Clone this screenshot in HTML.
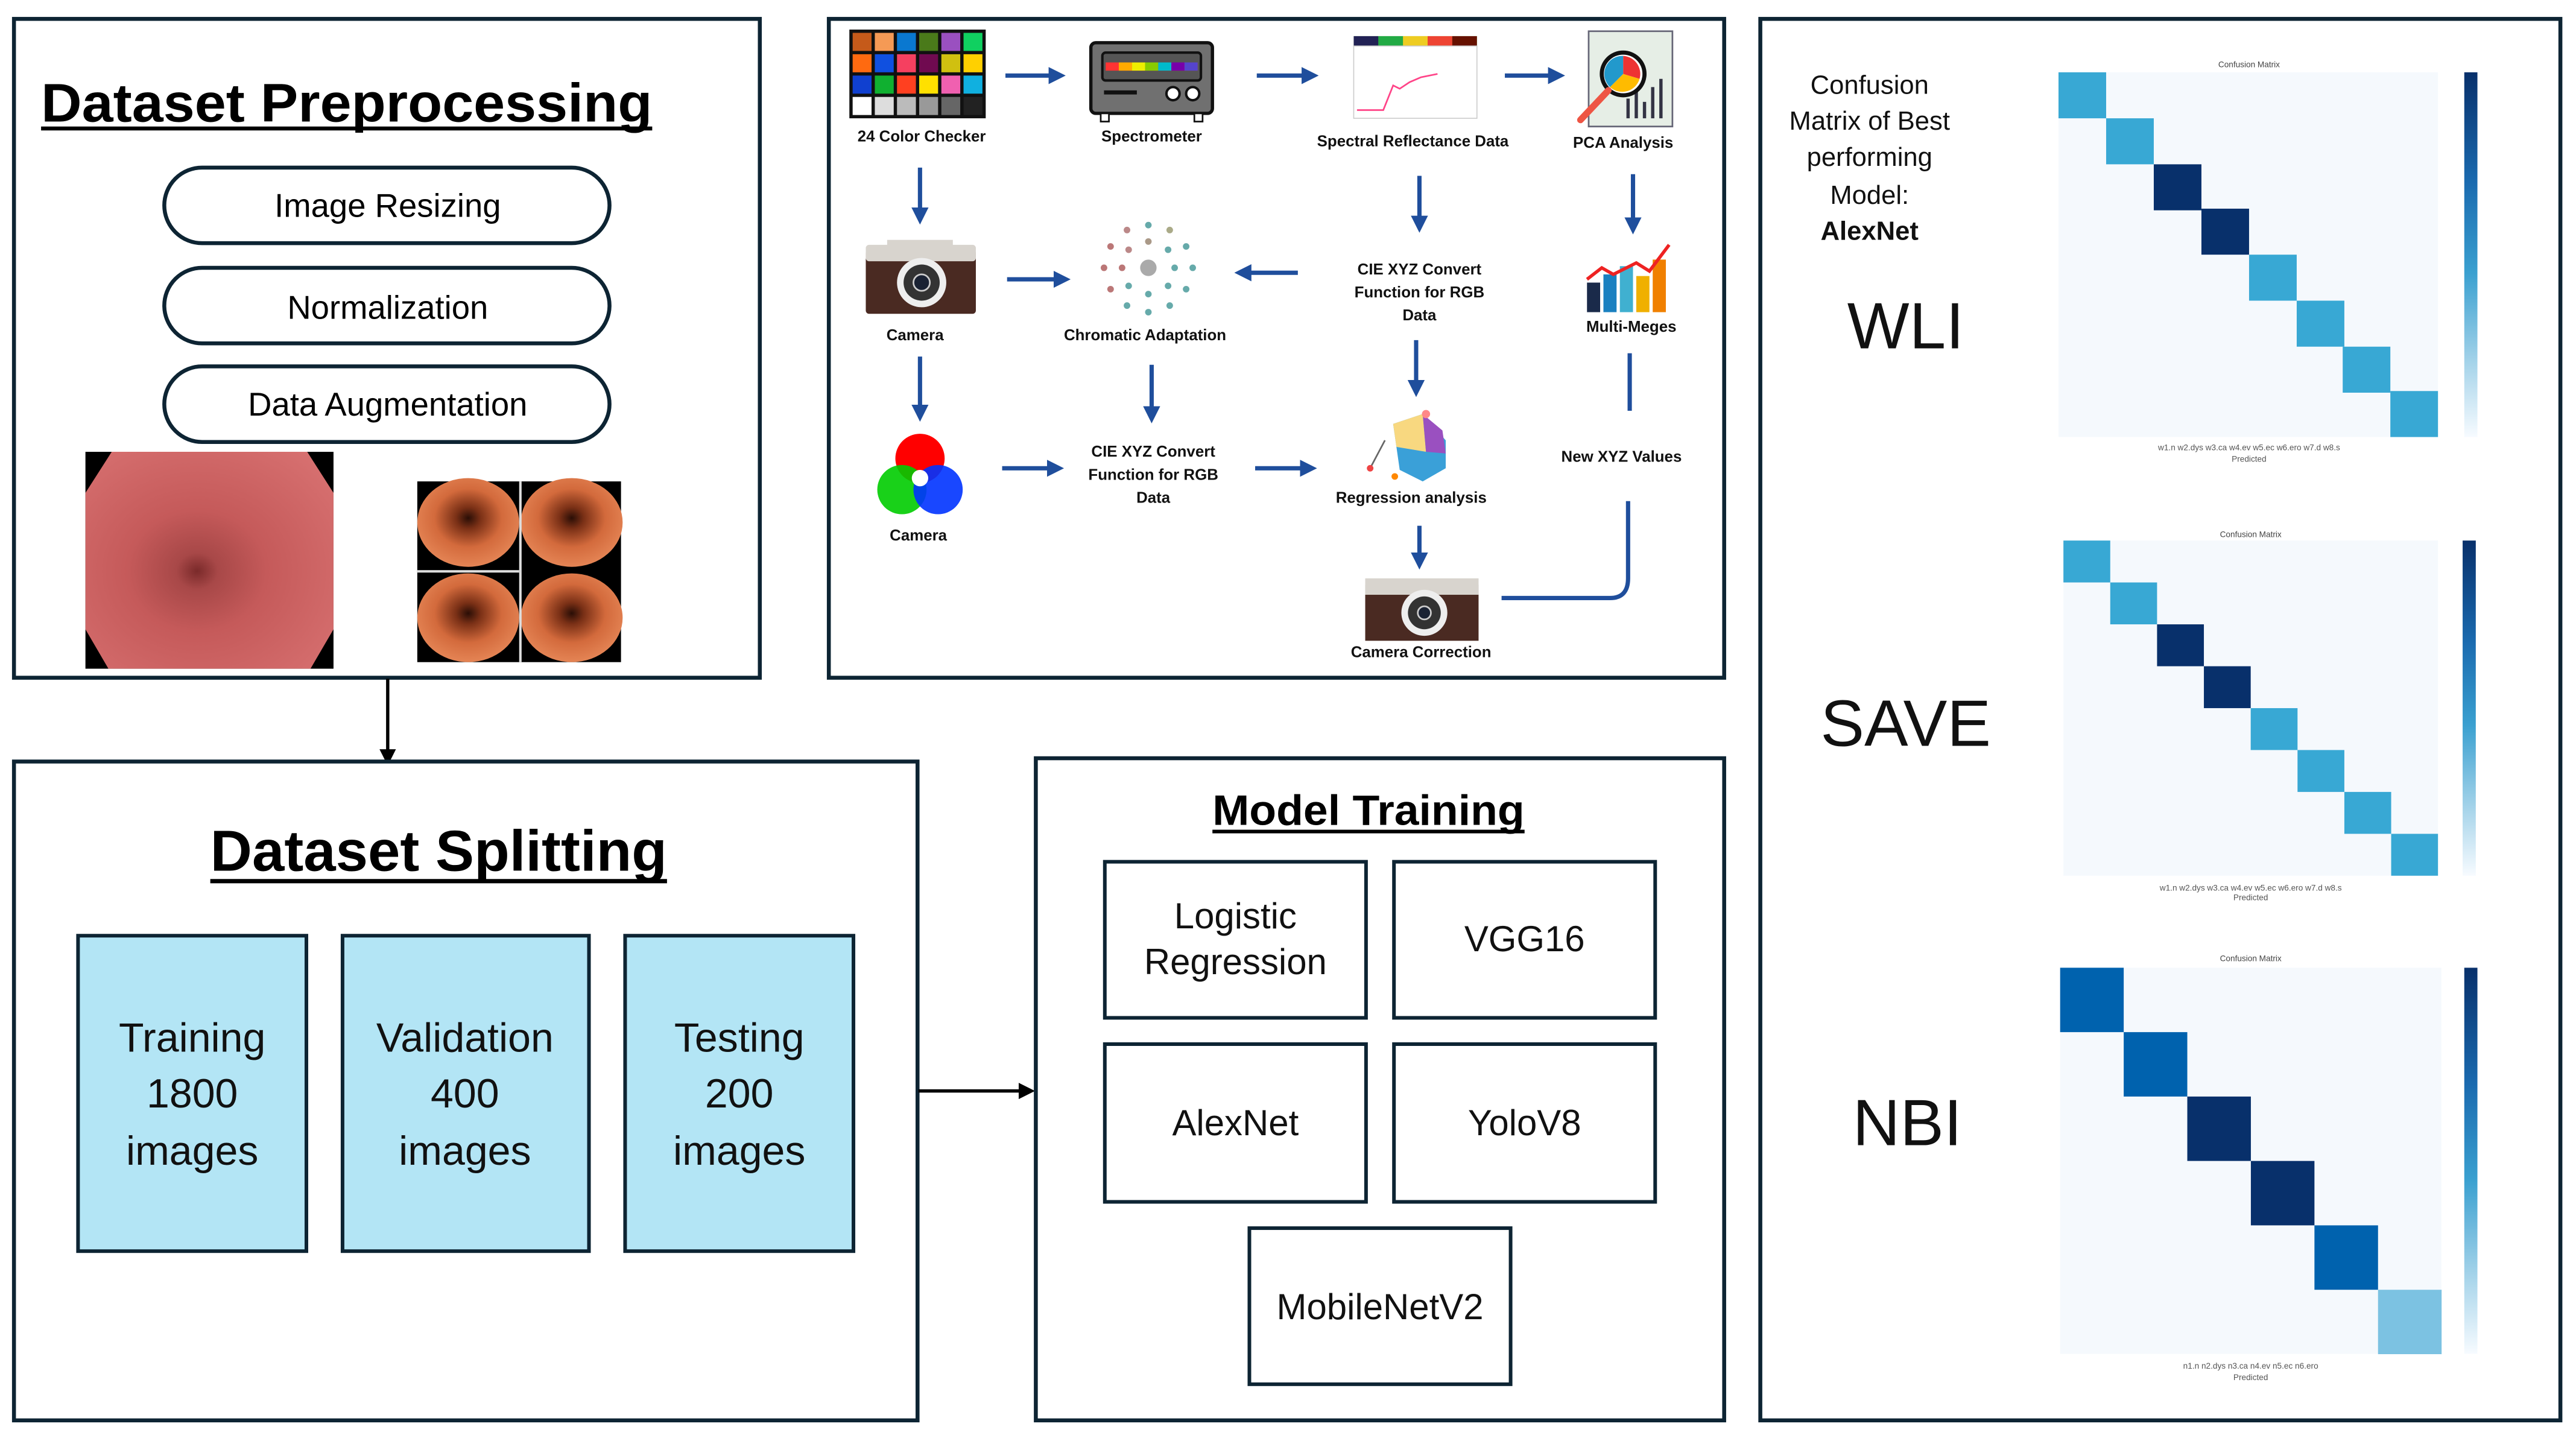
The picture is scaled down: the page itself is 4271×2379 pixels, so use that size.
<!DOCTYPE html>
<html><head><meta charset="utf-8">
<style>
html,body{margin:0;padding:0;background:#fff;overflow:hidden}
svg{display:block}
text{font-family:"Liberation Sans","DejaVu Sans",sans-serif}
.n{font-family:"Liberation Sans Narrow","Liberation Sans",sans-serif;font-weight:bold;font-size:9.5px;fill:#111}
</style></head>
<body>
<svg width="4271" height="2379" viewBox="0 0 1568 873.4" xmlns="http://www.w3.org/2000/svg">
<defs>
<marker id="ah" markerWidth="4" markerHeight="4" refX="2.2" refY="2" orient="auto" markerUnits="strokeWidth">
<path d="M0,0 L4,2 L0,4 z" fill="#1f4e9c"/></marker>
<marker id="bk" markerWidth="5" markerHeight="5" refX="3" refY="2.5" orient="auto" markerUnits="strokeWidth">
<path d="M0,0 L5,2.5 L0,5 z" fill="#000"/></marker>
<linearGradient id="cb" x1="0" y1="0" x2="0" y2="1">
<stop offset="0" stop-color="#08306b"/><stop offset="0.3" stop-color="#1a6aaf"/><stop offset="0.55" stop-color="#3aa0d0"/><stop offset="0.8" stop-color="#a6d4ea"/><stop offset="1" stop-color="#f7fbff"/></linearGradient>
<radialGradient id="endo" cx="0.45" cy="0.55" r="0.7">
<stop offset="0" stop-color="#7a2a2a"/><stop offset="0.12" stop-color="#a84848"/><stop offset="0.4" stop-color="#c55a5a"/><stop offset="1" stop-color="#d77070"/></radialGradient>
<radialGradient id="tile" cx="0.5" cy="0.45" r="0.6">
<stop offset="0" stop-color="#2a0e06"/><stop offset="0.2" stop-color="#7a3016"/><stop offset="0.55" stop-color="#d36a3c"/><stop offset="1" stop-color="#e88a5a"/></radialGradient>
</defs>

<!-- Panel 1 -->
<rect x="8.5" y="11.5" width="454" height="401" fill="#fff" stroke="#0d2433" stroke-width="2.4"/>
<text x="25" y="74" font-size="33" font-weight="bold" textLength="372" lengthAdjust="spacingAndGlyphs">Dataset Preprocessing</text>
<rect x="25" y="77" width="372" height="2.4" fill="#000"/>
<rect x="100" y="102" width="271" height="46" rx="23" fill="#fff" stroke="#0d2433" stroke-width="2.4"/>
<text x="236" y="132" font-size="20" text-anchor="middle">Image Resizing</text>
<rect x="100" y="163" width="271" height="46" rx="23" fill="#fff" stroke="#0d2433" stroke-width="2.4"/>
<text x="236" y="194" font-size="20" text-anchor="middle">Normalization</text>
<rect x="100" y="223" width="271" height="46" rx="23" fill="#fff" stroke="#0d2433" stroke-width="2.4"/>
<text x="236" y="253" font-size="20" text-anchor="middle">Data Augmentation</text>
<!-- endoscopy -->
<rect x="52" y="275" width="151" height="132" fill="#000"/>
<polygon points="68,275 187,275 203,300 203,383 189,407 66,407 52,383 52,300" fill="url(#endo)"/>
<!-- tiles -->
<g>
<rect x="254" y="293" width="124" height="110" fill="#000"/>
<ellipse cx="285" cy="318" rx="31" ry="27" fill="url(#tile)"/>
<ellipse cx="348" cy="318" rx="31" ry="27" fill="url(#tile)"/>
<ellipse cx="285" cy="376" rx="31" ry="27" fill="url(#tile)"/>
<ellipse cx="348" cy="376" rx="31" ry="27" fill="url(#tile)"/>
<rect x="316" y="293" width="1.5" height="110" fill="#ddd"/>
<rect x="254" y="347" width="62" height="1.5" fill="#ddd"/>
</g>

<!-- arrow down -->
<line x1="236" y1="413" x2="236" y2="462" stroke="#000" stroke-width="2" marker-end="url(#bk)"/>

<!-- Panel 2 -->
<rect x="8.5" y="463.5" width="550" height="401" fill="#fff" stroke="#0d2433" stroke-width="2.4"/>
<text x="267" y="530" font-size="35" font-weight="bold" text-anchor="middle" textLength="278" lengthAdjust="spacingAndGlyphs">Dataset Splitting</text>
<rect x="128" y="535" width="278" height="2.6" fill="#000"/>
<g font-size="25" text-anchor="middle" fill="#111">
<rect x="47.5" y="569.5" width="139" height="192" fill="#b3e5f5" stroke="#0d2433" stroke-width="2.2"/>
<text x="117" y="640">Training</text><text x="117" y="674">1800</text><text x="117" y="709">images</text>
<rect x="208.5" y="569.5" width="150" height="192" fill="#b3e5f5" stroke="#0d2433" stroke-width="2.2"/>
<text x="283" y="640">Validation</text><text x="283" y="674">400</text><text x="283" y="709">images</text>
<rect x="380.5" y="569.5" width="139" height="192" fill="#b3e5f5" stroke="#0d2433" stroke-width="2.2"/>
<text x="450" y="640">Testing</text><text x="450" y="674">200</text><text x="450" y="709">images</text>
</g>
<line x1="559" y1="664" x2="626" y2="664" stroke="#000" stroke-width="2" marker-end="url(#bk)"/>

<!-- Panel 3 -->
<rect x="630.5" y="461.5" width="419" height="403" fill="#fff" stroke="#0d2433" stroke-width="2.4"/>
<text x="833" y="502" font-size="26" font-weight="bold" text-anchor="middle" textLength="190" lengthAdjust="spacingAndGlyphs">Model Training</text>
<rect x="738" y="505" width="190" height="2.2" fill="#000"/>
<g font-size="22" text-anchor="middle" fill="#111" stroke-width="2.2">
<rect x="672.5" y="524.5" width="159" height="95" fill="#fff" stroke="#0d2433"/>
<text x="752" y="565">Logistic</text><text x="752" y="593">Regression</text>
<rect x="848.5" y="524.5" width="159" height="95" fill="#fff" stroke="#0d2433"/>
<text x="928" y="579">VGG16</text>
<rect x="672.5" y="635.5" width="159" height="96" fill="#fff" stroke="#0d2433"/>
<text x="752" y="691">AlexNet</text>
<rect x="848.5" y="635.5" width="159" height="96" fill="#fff" stroke="#0d2433"/>
<text x="928" y="691">YoloV8</text>
<rect x="760.5" y="747.5" width="159" height="95" fill="#fff" stroke="#0d2433"/>
<text x="840" y="803">MobileNetV2</text>
</g>

<!-- Middle panel -->
<rect x="504.5" y="11.5" width="545" height="401" fill="#fff" stroke="#0d2433" stroke-width="2.4"/>
<!-- color checker -->
<rect x="517" y="18" width="83" height="54" fill="#111"/>
<g>
<rect x="519" y="20" width="11.5" height="11" fill="#c55a1a"/><rect x="532.5" y="20" width="11.5" height="11" fill="#f59a55"/><rect x="546" y="20" width="11.5" height="11" fill="#0a78d0"/><rect x="559.5" y="20" width="11.5" height="11" fill="#4a7a1a"/><rect x="573" y="20" width="11.5" height="11" fill="#9a50c0"/><rect x="586.5" y="20" width="11.5" height="11" fill="#10d060"/>
<rect x="519" y="33" width="11.5" height="11" fill="#ff6a10"/><rect x="532.5" y="33" width="11.5" height="11" fill="#1050e0"/><rect x="546" y="33" width="11.5" height="11" fill="#f54060"/><rect x="559.5" y="33" width="11.5" height="11" fill="#700a50"/><rect x="573" y="33" width="11.5" height="11" fill="#d0c010"/><rect x="586.5" y="33" width="11.5" height="11" fill="#ffd000"/>
<rect x="519" y="46" width="11.5" height="11" fill="#1040d0"/><rect x="532.5" y="46" width="11.5" height="11" fill="#10b030"/><rect x="546" y="46" width="11.5" height="11" fill="#ff4020"/><rect x="559.5" y="46" width="11.5" height="11" fill="#ffe000"/><rect x="573" y="46" width="11.5" height="11" fill="#f060b0"/><rect x="586.5" y="46" width="11.5" height="11" fill="#10b0e0"/>
<rect x="519" y="59" width="11.5" height="11" fill="#fff"/><rect x="532.5" y="59" width="11.5" height="11" fill="#ddd"/><rect x="546" y="59" width="11.5" height="11" fill="#bbb"/><rect x="559.5" y="59" width="11.5" height="11" fill="#999"/><rect x="573" y="59" width="11.5" height="11" fill="#666"/><rect x="586.5" y="59" width="11.5" height="11" fill="#222"/>
</g>
<text class="n" x="561" y="86" text-anchor="middle">24 Color Checker</text>
<!-- spectrometer -->
<rect x="664" y="26" width="74" height="43" rx="3" fill="#707070" stroke="#111" stroke-width="2"/>
<rect x="671" y="32" width="60" height="17" rx="2" fill="#555" stroke="#111" stroke-width="1.5"/>
<rect x="673" y="38" width="56" height="5" fill="#f33"/>
<rect x="681" y="38" width="8" height="5" fill="#fa0"/><rect x="689" y="38" width="8" height="5" fill="#ee0"/><rect x="697" y="38" width="8" height="5" fill="#8c0"/><rect x="705" y="38" width="8" height="5" fill="#0bc"/><rect x="713" y="38" width="8" height="5" fill="#70a"/><rect x="721" y="38" width="8" height="5" fill="#54c"/>
<rect x="672" y="55" width="20" height="2.5" fill="#111"/>
<circle cx="714" cy="57" r="4" fill="#fff" stroke="#111" stroke-width="1.5"/><circle cx="726" cy="57" r="4" fill="#fff" stroke="#111" stroke-width="1.5"/>
<rect x="670" y="69" width="5" height="5" fill="#fff" stroke="#111"/><rect x="727" y="69" width="5" height="5" fill="#fff" stroke="#111"/>
<text class="n" x="701" y="86" text-anchor="middle">Spectrometer</text>
<!-- spectral -->
<rect x="824" y="22" width="75" height="6" fill="#6a3"/>
<rect x="824" y="22" width="15" height="6" fill="#225"/><rect x="839" y="22" width="15" height="6" fill="#2a4"/><rect x="854" y="22" width="15" height="6" fill="#ec2"/><rect x="869" y="22" width="15" height="6" fill="#e43"/><rect x="884" y="22" width="15" height="6" fill="#610"/>
<rect x="824" y="28" width="75" height="44" fill="#fff" stroke="#ccc" stroke-width="0.6"/>
<polyline points="826,67 842,67 848,52 852,54 858,50 865,47 875,45" fill="none" stroke="#f48" stroke-width="1"/>
<text class="n" x="860" y="89" text-anchor="middle">Spectral Reflectance Data</text>
<!-- PCA -->
<rect x="967" y="19" width="51" height="58" fill="#e6eee6" stroke="#667" stroke-width="1"/>
<rect x="990" y="60" width="2" height="12" fill="#334"/><rect x="995" y="56" width="2" height="16" fill="#334"/><rect x="1000" y="62" width="2" height="10" fill="#334"/><rect x="1005" y="53" width="2" height="19" fill="#334"/><rect x="1010" y="48" width="2" height="24" fill="#334"/>
<circle cx="988" cy="45" r="13" fill="#fff" stroke="#111" stroke-width="2.5"/>
<path d="M988,45 L988,34 A11,11 0 0 1 998,48 z" fill="#e33"/><path d="M988,45 L998,48 A11,11 0 0 1 980,53 z" fill="#fb0"/><path d="M988,45 L980,53 A11,11 0 0 1 988,34 z" fill="#29c"/>
<line x1="979" y1="55" x2="962" y2="73" stroke="#e54" stroke-width="4" stroke-linecap="round"/>
<text class="n" x="988" y="90" text-anchor="middle">PCA Analysis</text>
<!-- arrows row1 -->
<g stroke="#1f4e9c" stroke-width="2.6" fill="none" marker-end="url(#ah)">
<line x1="612" y1="46" x2="644" y2="46"/><line x1="765" y1="46" x2="798" y2="46"/><line x1="916" y1="46" x2="948" y2="46"/>
<line x1="560" y1="102" x2="560" y2="132"/><line x1="864" y1="107" x2="864" y2="137"/><line x1="994" y1="106" x2="994" y2="138"/>
<line x1="613" y1="170" x2="647" y2="170"/><line x1="790" y1="166" x2="756" y2="166"/>
<line x1="560" y1="217" x2="560" y2="252"/><line x1="701" y1="222" x2="701" y2="253"/><line x1="862" y1="207" x2="862" y2="237"/>
<line x1="610" y1="285" x2="643" y2="285"/><line x1="764" y1="285" x2="797" y2="285"/>
<line x1="864" y1="320" x2="864" y2="342"/>
</g>
<path d="M992,215 L992,250" stroke="#1f4e9c" stroke-width="2.6" fill="none"/>
<path d="M914,364 L980,364 Q991,364 991,352 L991,305" stroke="#1f4e9c" stroke-width="2.6" fill="none"/>
<!-- camera -->
<g>
<rect x="527" y="152" width="67" height="39" rx="2" fill="#4a2a22"/>
<rect x="527" y="149" width="67" height="10" rx="2" fill="#d8d4ce"/>
<rect x="540" y="146" width="40" height="6" fill="#d8d4ce"/>
<circle cx="561" cy="172" r="15" fill="#eee"/><circle cx="561" cy="172" r="11" fill="#333"/><circle cx="561" cy="172" r="5" fill="#1a2233" stroke="#ccc" stroke-width="1"/>
</g>
<text class="n" x="557" y="207" text-anchor="middle">Camera</text>
<!-- chromatic -->
<g>
<circle cx="699" cy="163" r="5" fill="#aaa"/>
<g fill="#6aa">
<circle cx="699" cy="137" r="2"/><circle cx="712" cy="140" r="2" fill="#aa8"/><circle cx="722" cy="150" r="2"/><circle cx="726" cy="163" r="2"/><circle cx="722" cy="176" r="2"/><circle cx="712" cy="186" r="2"/><circle cx="699" cy="190" r="2"/><circle cx="686" cy="186" r="2"/><circle cx="676" cy="176" r="2" fill="#b77"/><circle cx="672" cy="163" r="2" fill="#b77"/><circle cx="676" cy="150" r="2" fill="#b77"/><circle cx="686" cy="140" r="2" fill="#b88"/>
<circle cx="699" cy="147" r="2" fill="#a98"/><circle cx="711" cy="152" r="2"/><circle cx="715" cy="163" r="2"/><circle cx="711" cy="174" r="2"/><circle cx="699" cy="179" r="2"/><circle cx="687" cy="174" r="2"/><circle cx="683" cy="163" r="2" fill="#b77"/><circle cx="687" cy="152" r="2" fill="#b88"/>
</g></g>
<text class="n" x="697" y="207" text-anchor="middle">Chromatic Adaptation</text>
<text class="n" x="864" y="167" text-anchor="middle">CIE XYZ Convert</text>
<text class="n" x="864" y="181" text-anchor="middle">Function for RGB</text>
<text class="n" x="864" y="195" text-anchor="middle">Data</text>
<!-- multi-meges -->
<rect x="966" y="172" width="8" height="18" fill="#1a2a4a"/><rect x="976" y="167" width="8" height="23" fill="#1a80c0"/><rect x="986" y="162" width="8" height="28" fill="#40b0d0"/><rect x="996" y="168" width="8" height="22" fill="#f0b000"/><rect x="1006" y="158" width="8" height="32" fill="#f08000"/>
<polyline points="966,170 975,163 982,167 996,160 1004,165 1016,149" fill="none" stroke="#e22" stroke-width="2"/>
<text class="n" x="993" y="202" text-anchor="middle">Multi-Meges</text>
<!-- rgb -->
<g style="mix-blend-mode:normal">
<circle cx="560" cy="279" r="15" fill="#f00"/><circle cx="549" cy="298" r="15" fill="#0c0" opacity="0.9"/><circle cx="571" cy="298" r="15" fill="#03f" opacity="0.9"/>
<circle cx="560" cy="291" r="5" fill="#fff"/>
</g>
<text class="n" x="559" y="329" text-anchor="middle">Camera</text>
<text class="n" x="702" y="278" text-anchor="middle">CIE XYZ Convert</text>
<text class="n" x="702" y="292" text-anchor="middle">Function for RGB</text>
<text class="n" x="702" y="306" text-anchor="middle">Data</text>
<!-- regression -->
<path d="M848,258 L866,252 L880,268 L880,285 L866,293 L852,286 Z" fill="#3aa0d8"/>
<path d="M848,258 L866,252 L868,275 L850,272 Z" fill="#f8d880"/>
<path d="M866,252 L878,262 L880,276 L868,275 Z" fill="#9a50c0"/>
<line x1="843" y1="268" x2="834" y2="285" stroke="#666" stroke-width="1"/>
<circle cx="834" cy="285" r="2" fill="#e44"/><circle cx="868" cy="252" r="2.5" fill="#f88"/><circle cx="849" cy="290" r="2" fill="#f80"/>
<text class="n" x="859" y="306" text-anchor="middle">Regression analysis</text>
<text class="n" x="987" y="281" text-anchor="middle">New XYZ Values</text>
<!-- camera correction -->
<g>
<rect x="831" y="356" width="69" height="34" fill="#4a2a22"/>
<rect x="831" y="352" width="69" height="10" fill="#d8d4ce"/>
<circle cx="867" cy="373" r="14" fill="#eee"/><circle cx="867" cy="373" r="10" fill="#333"/><circle cx="867" cy="373" r="4" fill="#1a2233" stroke="#ccc" stroke-width="1"/>
</g>
<text class="n" x="865" y="400" text-anchor="middle">Camera Correction</text>

<!-- Right panel -->
<rect x="1071.5" y="11.5" width="487" height="853" fill="#fff" stroke="#0d2433" stroke-width="2.4"/>
<g font-size="16" text-anchor="middle" fill="#111">
<text x="1138" y="57">Confusion</text><text x="1138" y="79">Matrix of Best</text><text x="1138" y="101">performing</text><text x="1138" y="124">Model:</text>
<text x="1138" y="146" font-weight="bold">AlexNet</text>
</g>
<g font-size="40" text-anchor="middle" fill="#111">
<text x="1160" y="212">WLI</text><text x="1160" y="454">SAVE</text><text x="1161" y="697">NBI</text>
</g>

<!-- Matrix 1 -->
<g>
<text x="1369" y="41" font-size="5" text-anchor="middle" fill="#444">Confusion Matrix</text>
<rect x="1253" y="44" width="231" height="222" fill="#f5f9fd"/>
<rect x="1253" y="44" width="29" height="28" fill="#38a8d4"/>
<rect x="1282" y="72" width="29" height="28" fill="#38a8d4"/>
<rect x="1311" y="100" width="29" height="28" fill="#08306b"/>
<rect x="1340" y="127" width="29" height="28" fill="#08306b"/>
<rect x="1369" y="155" width="29" height="28" fill="#38a8d4"/>
<rect x="1398" y="183" width="29" height="28" fill="#38a8d4"/>
<rect x="1426" y="211" width="29" height="28" fill="#38a8d4"/>
<rect x="1455" y="238" width="29" height="28" fill="#38a8d4"/>
<rect x="1500" y="44" width="8" height="222" fill="url(#cb)"/>
<text x="1369" y="274" font-size="5" text-anchor="middle" fill="#555">w1.n   w2.dys   w3.ca   w4.ev   w5.ec   w6.ero   w7.d   w8.s</text>
<text x="1369" y="281" font-size="5" text-anchor="middle" fill="#555">Predicted</text>
</g>
<!-- Matrix 2 -->
<g>
<text x="1370" y="327" font-size="5" text-anchor="middle" fill="#444">Confusion Matrix</text>
<rect x="1256" y="329" width="228" height="204" fill="#f5f9fd"/>
<rect x="1256" y="329" width="28.5" height="25.5" fill="#38a8d4"/>
<rect x="1284.5" y="354.5" width="28.5" height="25.5" fill="#38a8d4"/>
<rect x="1313" y="380" width="28.5" height="25.5" fill="#08306b"/>
<rect x="1341.5" y="405.5" width="28.5" height="25.5" fill="#08306b"/>
<rect x="1370" y="431" width="28.5" height="25.5" fill="#38a8d4"/>
<rect x="1398.5" y="456.5" width="28.5" height="25.5" fill="#38a8d4"/>
<rect x="1427" y="482" width="28.5" height="25.5" fill="#38a8d4"/>
<rect x="1455.5" y="507.5" width="28.5" height="25.5" fill="#38a8d4"/>
<rect x="1499" y="329" width="8" height="204" fill="url(#cb)"/>
<text x="1370" y="542" font-size="5" text-anchor="middle" fill="#555">w1.n   w2.dys   w3.ca   w4.ev   w5.ec   w6.ero   w7.d   w8.s</text>
<text x="1370" y="548" font-size="5" text-anchor="middle" fill="#555">Predicted</text>
</g>
<!-- Matrix 3 -->
<g>
<text x="1370" y="585" font-size="5" text-anchor="middle" fill="#444">Confusion Matrix</text>
<rect x="1254" y="589" width="232" height="235" fill="#f5f9fd"/>
<rect x="1254" y="589" width="38.7" height="39.2" fill="#0062ae"/>
<rect x="1292.7" y="628.2" width="38.7" height="39.2" fill="#0062ae"/>
<rect x="1331.4" y="667.4" width="38.7" height="39.2" fill="#08306b"/>
<rect x="1370.1" y="706.6" width="38.7" height="39.2" fill="#08306b"/>
<rect x="1408.8" y="745.8" width="38.7" height="39.2" fill="#0062ae"/>
<rect x="1447.5" y="785" width="38.7" height="39.2" fill="#7cc2e2"/>
<rect x="1500" y="589" width="8" height="235" fill="url(#cb)"/>
<text x="1370" y="833" font-size="5" text-anchor="middle" fill="#555">n1.n      n2.dys      n3.ca      n4.ev      n5.ec      n6.ero</text>
<text x="1370" y="840" font-size="5" text-anchor="middle" fill="#555">Predicted</text>
</g>
</svg>
</body></html>
